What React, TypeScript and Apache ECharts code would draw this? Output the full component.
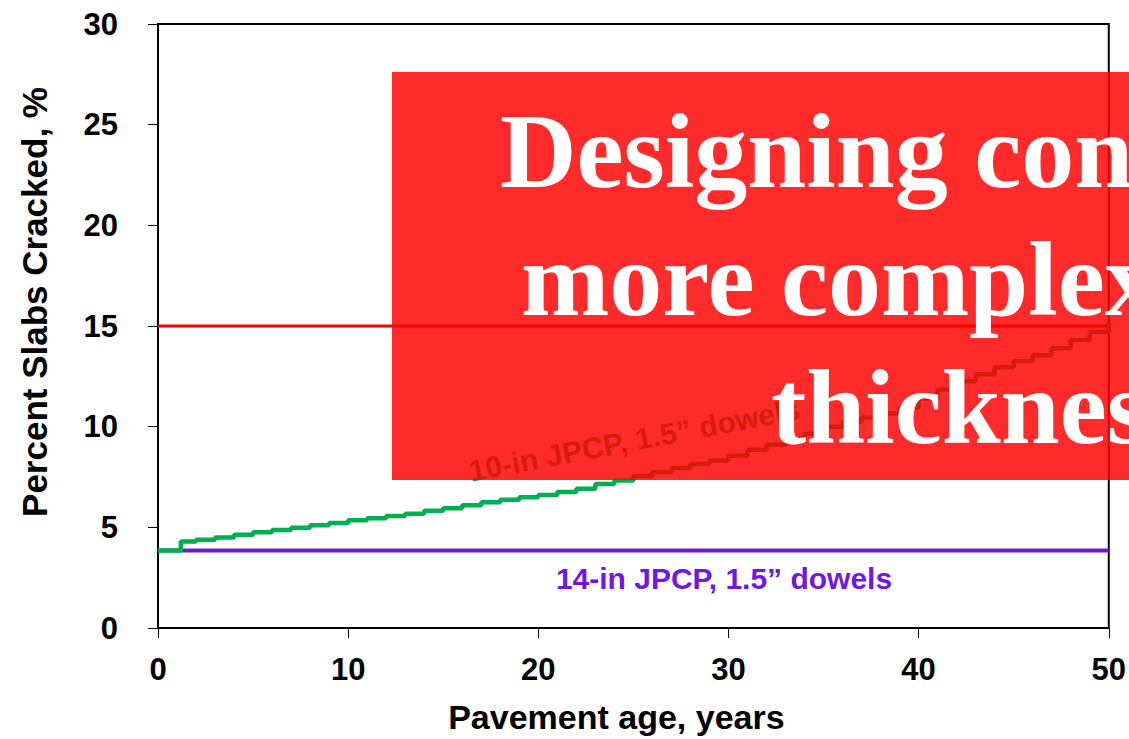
import React, { useEffect, useRef } from "react";
import * as echarts from "echarts";

const xTicks = [0, 10, 20, 30, 40, 50];
const yTicks = [0, 5, 10, 15, 20, 25, 30];

// 10-in JPCP, 1.5" dowels (green, stepped)
const tenInAge = [0, 1.2, 2, 3, 4, 5, 6, 7, 8, 9, 10, 11, 12, 13, 14, 15, 16, 17, 18, 19, 20, 21, 22, 23, 24, 25, 26, 27, 28, 29, 30, 31, 32, 33, 34, 35, 36, 37, 38, 39, 40, 41, 42, 43, 44, 45, 46, 47, 48, 49, 50];
const tenInCracked = [3.85, 4.3, 4.38, 4.5, 4.63, 4.75, 4.87, 4.98, 5.1, 5.22, 5.35, 5.45, 5.56, 5.68, 5.82, 5.95, 6.1, 6.24, 6.37, 6.5, 6.6, 6.75, 6.92, 7.15, 7.33, 7.55, 7.75, 7.95, 8.15, 8.32, 8.55, 8.85, 9.1, 9.35, 9.65, 10.0, 10.25, 10.45, 10.65, 10.95, 11.4, 11.85, 12.25, 12.6, 12.95, 13.25, 13.55, 13.9, 14.3, 14.7, 15.2];

// 14-in JPCP, 1.5" dowels (purple)
const fourteenInAge = [0, 50];
const fourteenInCracked = [3.85, 3.85];

// Failure criterion (red)
const limitAge = [0, 50];
const limitCracked = [15, 15];

const titleLines = ["Designing con", "more complex", "thicknes"];

const zip = (a: number[], b: number[]) => a.map((v, i) => [v, b[i]]);

export default function App() {
  const ref = useRef<HTMLDivElement>(null);
  useEffect(() => {
    if (!ref.current) return;
    const chart = echarts.init(ref.current, null, { renderer: "svg" });
    const sans = "'Liberation Sans', Arial, sans-serif";
    const serif = "'Liberation Serif', 'Times New Roman', serif";
    chart.setOption({
      animation: false,
      backgroundColor: "#ffffff",
      grid: {
        left: 158,
        right: 14,
        top: 24,
        bottom: 108,
        show: true,
        borderColor: "#000000",
        borderWidth: 2,
        containLabel: false,
      },
      xAxis: {
        type: "value",
        min: 0,
        max: 50,
        interval: 10,
        name: "Pavement age, years",
        nameLocation: "middle",
        nameGap: 72,
        nameTextStyle: { fontFamily: sans, fontWeight: "bold", fontSize: 34, color: "#000", padding: [0, 34, 0, 0] },
        axisLine: { show: true, onZero: false, lineStyle: { color: "#000", width: 2 } },
        axisTick: { show: true, length: 10, lineStyle: { color: "#000", width: 1 } },
        axisLabel: { fontFamily: sans, fontWeight: "bold", fontSize: 31, color: "#000", margin: 26 },
        splitLine: { show: false },
      },
      yAxis: {
        type: "value",
        min: 0,
        max: 30,
        interval: 5,
        name: "Percent Slabs Cracked, %",
        nameLocation: "middle",
        nameGap: 106,
        nameTextStyle: { fontFamily: sans, fontWeight: "bold", fontSize: 35, color: "#000", padding: [0, 0, 0, 48] },
        axisLine: { show: true, lineStyle: { color: "#000", width: 2 } },
        axisTick: { show: true, length: 10, lineStyle: { color: "#000", width: 1 } },
        axisLabel: { fontFamily: sans, fontWeight: "bold", fontSize: 31, color: "#000", margin: 40 },
        splitLine: { show: false },
      },
      series: [
        {
          name: "Limit",
          type: "line",
          data: zip(limitAge, limitCracked),
          symbol: "none",
          lineStyle: { color: "#ff0000", width: 3 },
          z: 3,
        },
        {
          name: "14-in JPCP, 1.5\u201d dowels",
          type: "line",
          data: zip(fourteenInAge, fourteenInCracked),
          symbol: "none",
          lineStyle: { color: "#7216e6", width: 4 },
          z: 3,
        },
        {
          name: "10-in JPCP, 1.5\u201d dowels",
          type: "line",
          step: "end",
          data: zip(tenInAge, tenInCracked),
          symbol: "none",
          lineStyle: { color: "#00b050", width: 4.5 },
          z: 4,
        },
      ],
      graphic: [
        {
          type: "text",
          z: 5,
          x: 724,
          y: 578,
          style: {
            text: "14-in JPCP, 1.5\u201d dowels",
            font: `bold 30px ${sans}`,
            fill: "#7216e6",
            align: "center",
            verticalAlign: "middle",
          },
        },
        {
          type: "text",
          z: 5,
          x: 634,
          y: 440,
          rotation: (10.8 * Math.PI) / 180,
          style: {
            text: "10-in JPCP, 1.5\u201d dowels",
            font: `bold 30px ${sans}`,
            fill: "#00b050",
            align: "center",
            verticalAlign: "middle",
          },
        },
        {
          type: "rect",
          z: 100,
          shape: { x: 392, y: 72, width: 760, height: 408 },
          style: { fill: "rgba(255,0,0,0.835)" },
        },
        {
          type: "text",
          z: 101,
          x: 500,
          y: 151,
          style: { text: titleLines[0], font: `bold 106px ${serif}`, fill: "#ffffff", align: "left", verticalAlign: "middle" },
        },
        {
          type: "text",
          z: 101,
          x: 521,
          y: 279,
          style: { text: titleLines[1], font: `bold 106px ${serif}`, fill: "#ffffff", align: "left", verticalAlign: "middle" },
        },
        {
          type: "text",
          z: 101,
          x: 771,
          y: 407,
          style: { text: titleLines[2], font: `bold 106px ${serif}`, fill: "#ffffff", align: "left", verticalAlign: "middle" },
        },
      ],
    });
    return () => chart.dispose();
  }, []);
  return <div ref={ref} style={{ position: "fixed", left: 0, top: 0, width: 1129, height: 739 }} />;
}
